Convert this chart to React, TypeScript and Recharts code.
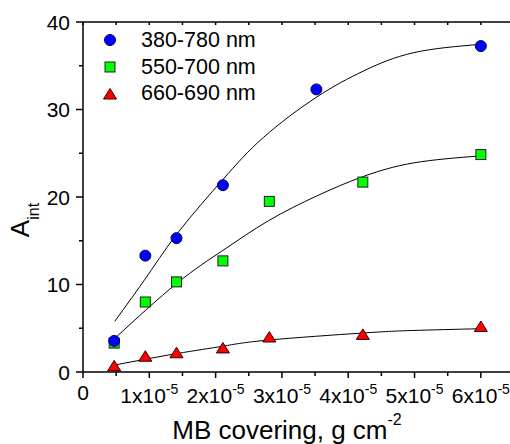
import React from 'react';
import { ComposedChart, Scatter, Line, XAxis, YAxis, Legend } from 'recharts';

// measured points, x in g cm^-2
const blueX = [0.47e-5, 0.94e-5, 1.41e-5, 2.11e-5, 3.52e-5, 6.0e-5];
const blueY = [3.55, 13.3, 15.3, 21.35, 32.3, 37.25];
const greenX = [0.47e-5, 0.94e-5, 1.41e-5, 2.11e-5, 2.81e-5, 4.22e-5, 6.0e-5];
const greenY = [3.3, 8.0, 10.3, 12.7, 19.5, 21.7, 24.85];
const redX = [0.47e-5, 0.94e-5, 1.41e-5, 2.11e-5, 2.81e-5, 4.22e-5, 6.0e-5];
const redY = [0.7, 1.8, 2.2, 2.75, 4.0, 4.3, 5.2];

// fitted curves
const blueFitX = [0.48e-5, 0.98e-5, 1.46e-5, 2.11e-5, 2.72e-5, 3.52e-5, 4.23e-5, 4.99e-5, 6.0e-5];
const blueFitY = [5.8, 11.1, 16.2, 22.0, 26.8, 31.4, 34.4, 36.5, 37.45];
const greenFitX = [0.48e-5, 1.41e-5, 2.11e-5, 2.8e-5, 3.52e-5, 4.21e-5, 4.99e-5, 6.0e-5];
const greenFitY = [3.85, 10.1, 13.9, 17.3, 20.1, 22.3, 23.9, 24.7];
const redFitX = [0.48e-5, 1.41e-5, 2.11e-5, 2.8e-5, 4.21e-5, 4.99e-5, 6.0e-5];
const redFitY = [0.8, 2.1, 2.95, 3.65, 4.45, 4.75, 4.95];

const seriesNames = ['380-780 nm', '550-700 nm', '660-690 nm'];

const xTicks = [0, 0.5e-5, 1e-5, 1.5e-5, 2e-5, 2.5e-5, 3e-5, 3.5e-5, 4e-5, 4.5e-5, 5e-5, 5.5e-5, 6e-5, 6.5e-5];
const xMajor = [0, 1e-5, 2e-5, 3e-5, 4e-5, 5e-5, 6e-5];
const yTicks = [0, 5, 10, 15, 20, 25, 30, 35, 40];
const yMajor = [0, 10, 20, 30, 40];

const FONT = '"Liberation Sans", Arial, sans-serif';

const zip = (xs: number[], ys: number[]) => xs.map((x, i) => ({ x, y: ys[i] }));

const isMajor = (v: number, list: number[]) => list.some((m) => Math.abs(m - v) < 1e-9);

const BlueDot = (p: any) => <circle cx={p.cx} cy={p.cy} r={5.5} fill="#0000ff" stroke="#000050" strokeWidth={1} />;
const GreenDot = (p: any) => (
  <rect x={p.cx - 5} y={p.cy - 5} width={10} height={10} fill="#00ff00" stroke="#222" strokeWidth={1} />
);
const RedDot = (p: any) => (
  <path d={`M${p.cx},${p.cy - 5.5} L${p.cx + 6.5},${p.cy + 5} L${p.cx - 6.5},${p.cy + 5} Z`} fill="#ff0000" stroke="#300" strokeWidth={1} />
);

const symbols = [BlueDot, GreenDot, RedDot];

function BottomTick({ x, y, payload }: any) {
  const v = payload.value;
  const major = isMajor(v, xMajor);
  const n = Math.round(v / 1e-5);
  return (
    <g>
      <line x1={x} x2={x} y1={y} y2={y + (major ? 6 : 4)} stroke="#000" strokeWidth={1.5} />
      {major && n === 0 && (
        <text x={x} y={y + 28} textAnchor="middle" fontSize={21} fontFamily={FONT} fill="#000">0</text>
      )}
      {major && n > 0 && (
        <text x={x} y={y + 31} textAnchor="middle" fontSize={21} fontFamily={FONT} fill="#000">
          {`${n}x10`}
          <tspan dy={-9} fontSize={14}>-5</tspan>
        </text>
      )}
    </g>
  );
}

function TopTick({ x, y }: any) {
  return <line x1={x} x2={x} y1={y} y2={y + 3} stroke="#000" strokeWidth={1.5} />;
}

function LeftTick({ x, y, payload }: any) {
  const major = isMajor(payload.value, yMajor);
  return (
    <g>
      <line x1={x - (major ? 7 : 4)} x2={x} y1={y} y2={y} stroke="#000" strokeWidth={1.5} />
      {major && (
        <text x={x - 13} y={y + 7.5} textAnchor="end" fontSize={21} fontFamily={FONT} fill="#000">
          {payload.value}
        </text>
      )}
    </g>
  );
}

function XTitle() {
  return (
    <text x={287} y={439} textAnchor="middle" fontSize={26} fontFamily={FONT} fill="#000">
      MB covering, g cm
      <tspan dy={-14} fontSize={16}>-2</tspan>
    </text>
  );
}

function YTitle() {
  return (
    <text transform="translate(29,220) rotate(-90)" textAnchor="middle" fontSize={26} fontFamily={FONT} fill="#000">
      A
      <tspan dy={10} fontSize={16}>int</tspan>
    </text>
  );
}

function LegendBox() {
  return (
    <div style={{ fontFamily: FONT, fontSize: 21.5, color: '#000' }}>
      {seriesNames.map((name, i) => {
        const Sym = symbols[i];
        return (
          <div key={name} style={{ display: 'flex', alignItems: 'center', height: 26.67, lineHeight: '26.67px' }}>
            <svg width={20} height={20} style={{ marginRight: 21, overflow: 'visible' }}>
              <Sym cx={10} cy={10} />
            </svg>
            <span>{name}</span>
          </div>
        );
      })}
    </div>
  );
}

export default function App() {
  return (
    <div style={{ position: 'absolute', left: 0, top: 0, width: 510, height: 444, overflow: 'hidden', background: '#fff' }}>
      <ComposedChart width={514} height={444} margin={{ top: 21, right: 0, bottom: 0, left: 0 }}>
        <XAxis
          xAxisId="bottom"
          dataKey="x"
          type="number"
          domain={[0, 6.5e-5]}
          allowDataOverflow
          ticks={xTicks}
          interval={0}
          height={72}
          tickSize={0}
          tickMargin={0}
          tickLine={false}
          axisLine={{ stroke: '#000', strokeWidth: 1.5 }}
          tick={<BottomTick />}
          label={<XTitle />}
        />
        <XAxis
          xAxisId="top"
          orientation="top"
          dataKey="x"
          type="number"
          domain={[0, 6.5e-5]}
          allowDataOverflow
          ticks={xTicks}
          interval={0}
          height={1}
          tickSize={0}
          tickMargin={0}
          tickLine={false}
          axisLine={{ stroke: '#000', strokeWidth: 1.5 }}
          tick={<TopTick />}
        />
        <YAxis
          dataKey="y"
          type="number"
          domain={[0, 40]}
          allowDataOverflow
          ticks={yTicks}
          interval={0}
          width={83}
          tickSize={0}
          tickMargin={0}
          tickLine={false}
          axisLine={{ stroke: '#000', strokeWidth: 1.5 }}
          tick={<LeftTick />}
          label={<YTitle />}
        />
        <Legend
          layout="vertical"
          align="center"
          verticalAlign="middle"
          content={<LegendBox />}
          wrapperStyle={{ position: 'absolute', top: 27, left: 100, width: 200 }}
        />
        <Scatter xAxisId="bottom" name={seriesNames[2]} data={zip(redX, redY)} shape={RedDot} isAnimationActive={false} />
        <Scatter xAxisId="bottom" name={seriesNames[1]} data={zip(greenX, greenY)} shape={GreenDot} isAnimationActive={false} />
        <Scatter xAxisId="bottom" name={seriesNames[0]} data={zip(blueX, blueY)} shape={BlueDot} isAnimationActive={false} />
        <Line xAxisId="bottom" data={zip(blueFitX, blueFitY)} dataKey="y" type="natural" dot={false} stroke="#000" strokeWidth={1} isAnimationActive={false} legendType="none" />
        <Line xAxisId="bottom" data={zip(greenFitX, greenFitY)} dataKey="y" type="natural" dot={false} stroke="#000" strokeWidth={1} isAnimationActive={false} legendType="none" />
        <Line xAxisId="bottom" data={zip(redFitX, redFitY)} dataKey="y" type="natural" dot={false} stroke="#000" strokeWidth={1} isAnimationActive={false} legendType="none" />
      </ComposedChart>
    </div>
  );
}
